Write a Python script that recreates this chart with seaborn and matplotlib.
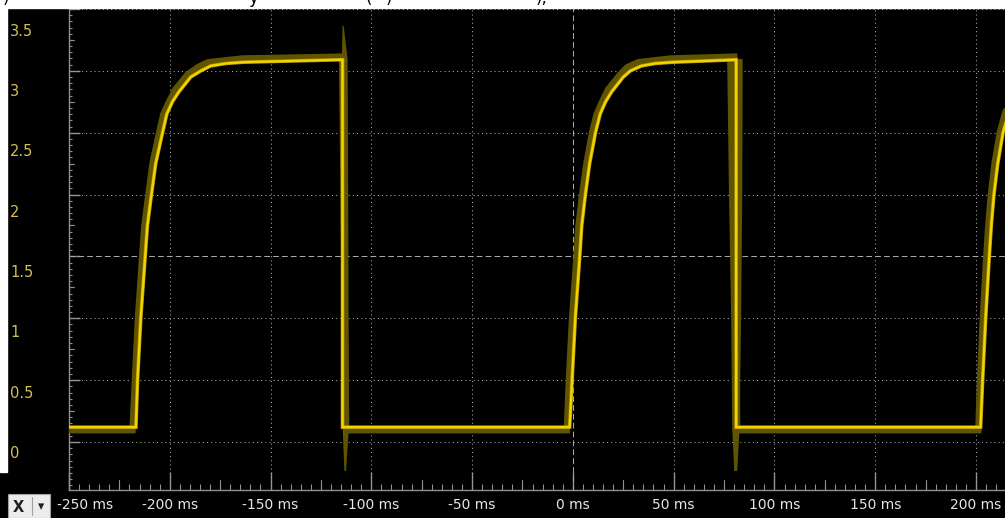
import numpy as np
import pandas as pd
import seaborn as sns
import matplotlib
matplotlib.use("Agg")
import matplotlib.pyplot as plt
from matplotlib.patches import Rectangle
from matplotlib.ticker import MultipleLocator
import matplotlib.transforms as mtransforms

# %% trace (time in ms, volts)
trace_t = [-255, -216.8, -216.0, -214.4, -212.2, -211.1, -209.1, -207.0, -203.6, -201.5,
           -198.7, -195.5, -189.6, -184.6, -179.7, -172.0, -163.3, -114.3, -114.3,
           -1.6, -0.4, 1.2, 3.4, 4.4, 6.2, 8.3, 11.2, 13.5, 16.2, 19.2, 25.0, 28.5,
           34.0, 41.0, 49.8, 81.0, 81.0,
           202.3, 203.3, 204.8, 206.6, 207.6, 208.9, 210.8, 213.4, 216.0, 220.0]
trace_v = [0.12, 0.12, 0.5, 1.0, 1.5, 1.75, 2.0, 2.25, 2.5, 2.65,
           2.75, 2.83, 2.95, 3.0, 3.04, 3.06, 3.07, 3.09, 0.12,
           0.12, 0.5, 1.0, 1.5, 1.75, 2.0, 2.25, 2.5, 2.65, 2.75, 2.83, 2.95, 3.0,
           3.04, 3.06, 3.07, 3.09, 0.12,
           0.12, 0.5, 1.0, 1.5, 1.75, 2.0, 2.25, 2.5, 2.65, 2.83]

# persistence envelope around the trace
env_t = [-255, -218.5, -217.3, -215.8, -213.7, -212.6, -210.6, -208.6, -205.3, -203.2,
         -200.4, -197.2, -191.2, -186.0, -181.0, -164.0, -114.5,
         -112.5, -3.0, -2.0, -0.4, 1.8, 2.8, 4.6, 6.7, 9.5, 11.8, 14.5, 17.5, 23.4,
         27.0, 32.6, 48.5, 80.0,
         81.5, 201.2, 202.0, 203.4, 205.1, 206.1, 207.4, 209.2, 211.8, 214.3, 218.5]
env_v = [0.095, 0.095, 0.5, 1.0, 1.5, 1.75, 2.0, 2.25, 2.5, 2.65,
         2.75, 2.85, 2.97, 3.03, 3.07, 3.10, 3.115,
         0.095, 0.095, 0.5, 1.0, 1.5, 1.75, 2.0, 2.25, 2.5, 2.65, 2.75, 2.85, 2.97,
         3.03, 3.07, 3.10, 3.115,
         0.095, 0.095, 0.5, 1.0, 1.5, 1.75, 2.0, 2.25, 2.5, 2.65, 2.85]

# falling-edge spread (overshoot spikes)
fall1_v = [3.37, 3.10, 1.5, 0.12, -0.23]
fall1_lo = [-114.5, -114.9, -114.6, -114.5, -113.6]
fall1_hi = [-114.0, -112.0, -111.6, -111.4, -112.8]
fall2_v = [3.10, 2.0, 1.0, 0.12, -0.23]
fall2_lo = [76.3, 77.2, 78.3, 78.8, 79.8]
fall2_hi = [84.0, 83.8, 83.2, 82.5, 81.3]

x_ticks = [-250, -200, -150, -100, -50, 0, 50, 100, 150, 200]
x_labels = [f"{t} ms" for t in x_ticks]
x_mid = [-225, -175, -125, -75, -25, 25, 75, 125, 175]
y_ticks = [0, 0.5, 1, 1.5, 2, 2.5, 3, 3.5]
y_labels = ["0", "0.5", "1", "1.5", "2", "2.5", "3", "3.5"]
y_mid = [0.25, 0.75, 1.25, 1.75, 2.25, 2.75, 3.25]

trace = pd.DataFrame({"t": trace_t, "v": trace_v})
env = pd.DataFrame({"t": env_t, "v": env_v})

# %% style
sns.set_style("dark")
plt.rcParams["font.family"] = ["DejaVu Sans"]
yellow = "#f4d400"
olive = "#5f5400"
grid_c = "#a8a8a8"
tick_c = "#909090"

fig = plt.figure(figsize=(10.05, 5.18), dpi=100, facecolor="black")
W, H = 1005, 518
ax = fig.add_axes([69 / W, 28 / H, 936 / W, 482 / H])
ax.set_facecolor("black")

# %% envelope + trace
ax.fill_betweenx(fall1_v, fall1_lo, fall1_hi, color=olive, lw=0, zorder=2)
ax.fill_betweenx(fall2_v, fall2_lo, fall2_hi, color=olive, lw=0, zorder=2)
sns.lineplot(data=env, x="t", y="v", sort=False, estimator=None,
             color=olive, lw=4.6, ax=ax, zorder=3, solid_joinstyle="miter")
sns.lineplot(data=trace, x="t", y="v", sort=False, estimator=None,
             color="#b39800", lw=2.6, ax=ax, zorder=4, solid_joinstyle="miter")
sns.lineplot(data=trace, x="t", y="v", sort=False, estimator=None,
             color=yellow, lw=1.6, ax=ax, zorder=5, solid_joinstyle="miter")

ax.set_xlim(-250, 214.4)
ax.set_ylim(-0.388, 3.508)

# grid: dotted, centre lines dashed
for t in x_ticks[1:]:
    ls = (0, (5.5, 3)) if t == 0 else (0, (1, 3))
    ax.axvline(t, color=grid_c, lw=0.75, ls=ls, zorder=1)
for v in y_ticks:
    ls = (0, (5.5, 3)) if v == 1.5 else (0, (1, 3))
    ax.axhline(v, color=grid_c, lw=0.75, ls=ls, zorder=1)

# axes / ticks
for s in ["top", "right"]:
    ax.spines[s].set_visible(False)
for s in ["left", "bottom"]:
    ax.spines[s].set_color(tick_c)
    ax.spines[s].set_linewidth(1)

ax.set_xticks(x_ticks, labels=x_labels)
ax.xaxis.set_minor_locator(MultipleLocator(5))
ax.tick_params(axis="x", which="major", direction="in", bottom=True, length=13, width=1,
               color=tick_c, labelcolor="#e6e6e6", labelsize=10, pad=6)
ax.tick_params(axis="x", which="minor", direction="in", bottom=True, length=4, width=0.8,
               color=tick_c)
for t in x_mid:
    ax.plot([t, t], [0, 10 / 482], transform=ax.get_xaxis_transform(), color=tick_c,
            lw=0.8, clip_on=False, zorder=6)
first = ax.get_xticklabels()[0]
first.set_horizontalalignment("left")
first.set_transform(first.get_transform() +
                    mtransforms.ScaledTranslation(-12 / 100, 0, fig.dpi_scale_trans))

ax.set_yticks(y_ticks, labels=[])
ax.yaxis.set_minor_locator(MultipleLocator(0.05))
ax.tick_params(axis="y", which="major", direction="in", left=True, length=8, width=1,
               color=tick_c)
ax.tick_params(axis="y", which="minor", direction="in", left=True, length=2.5, width=0.8,
               color=tick_c)
for v in y_mid:
    ax.plot([0, 5 / 936], [v, v], transform=ax.get_yaxis_transform(), color=tick_c,
            lw=0.8, zorder=6)
ax.set_xlabel("")
ax.set_ylabel("")
ax.grid(False)

# y labels sit on their own, slightly compressed scale
ax2 = ax.twinx()
ax2.set_ylim(-0.315, 3.68)
ax2.set_yticks(y_ticks, labels=y_labels)
ax2.yaxis.set_ticks_position("left")
ax2.tick_params(axis="y", length=0, pad=42.5, labelsize=10.5, labelcolor="#d6bf55")
for lab in ax2.get_yticklabels():
    lab.set_horizontalalignment("left")
for s in ax2.spines.values():
    s.set_visible(False)
ax2.grid(False)
ax2.patch.set_visible(False)

# %% window chrome
fig.patches.append(Rectangle((0, 1 - 8 / H), 1, 8 / H, transform=fig.transFigure,
                             color="white", zorder=0))
fig.patches.append(Rectangle((0, 46 / H), 7 / W, 1 - 46 / H, transform=fig.transFigure,
                             color="white", zorder=0))
fig.patches.append(Rectangle((8 / W, 0), 42 / W, 24 / H, transform=fig.transFigure,
                             facecolor="#ececec", edgecolor="#a0a0a0", lw=0.8, zorder=0))
fig.lines.append(plt.Line2D([32 / W, 32 / W], [3 / H, 21 / H], transform=fig.transFigure,
                            color="#a0a0a0", lw=0.8))
fig.text(13 / W, 11 / H, "X", fontsize=10.5, fontweight="bold", color="#202020",
         va="center", ha="left")
fig.text(41 / W, 11 / H, "\u25be", fontsize=9, color="#202020", va="center", ha="center")

# bottoms of the caption line cut off above the screenshot
for xp, s in [(3, ")"), (248, "y"), (366, "("), (386, ")"), (536, "),")]:
    fig.text(xp / W, 1 - 3 / H, s, fontsize=12, color="black", va="baseline", ha="left")

fig.savefig("out.png", dpi=100, facecolor="black")
